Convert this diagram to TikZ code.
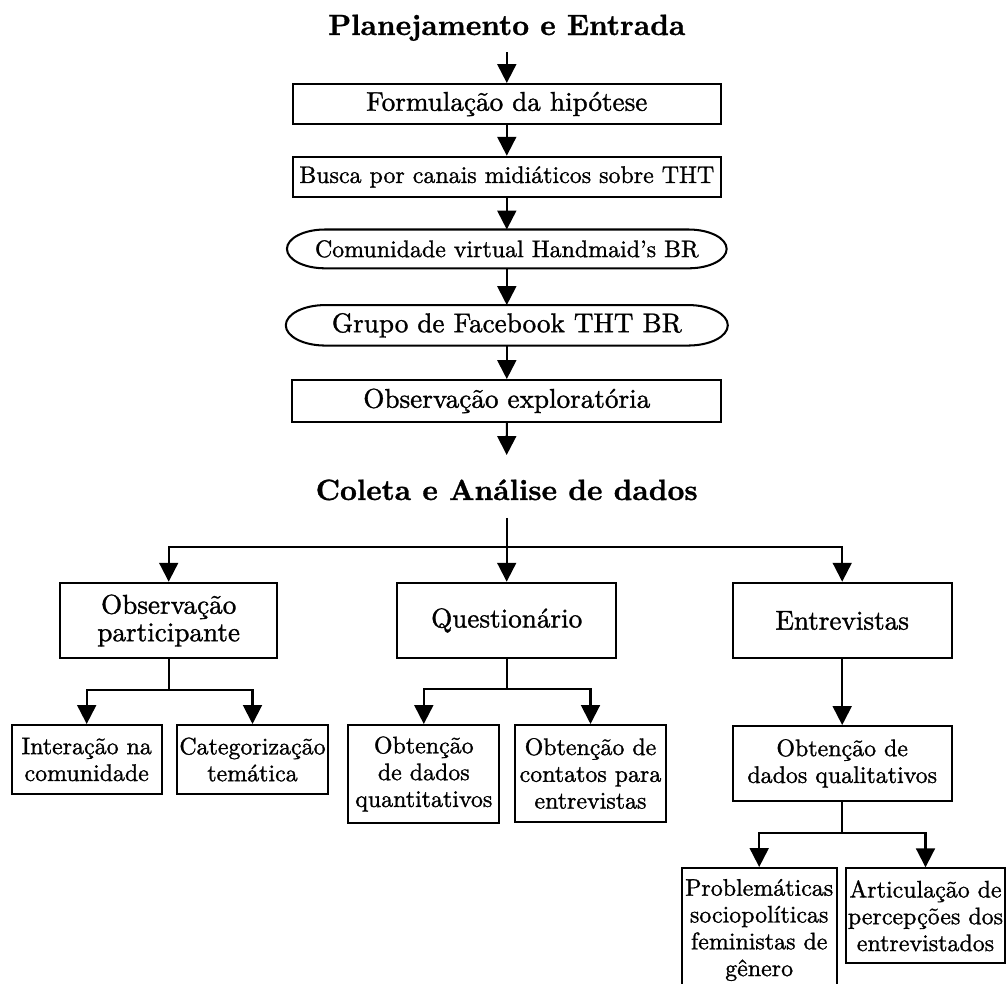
\documentclass[tikz,border=0pt]{standalone}
\usepackage{fontspec}
\setmainfont{lmroman10-regular}[Extension=.otf, BoldFont=lmroman10-bold, ItalicFont=lmroman10-italic, UprightFeatures={FakeBold=1.2}, BoldFeatures={FakeBold=1}]
\usetikzlibrary{arrows.meta}
\newcommand\mfnt{\fontsize{11.35}{11.5}\selectfont}
\newcommand\sfnt{\fontsize{10}{11.2}\selectfont}
\newcommand\tfnt{\fontsize{12.25}{15}\selectfont\bfseries}
\begin{document}
\begin{tikzpicture}[x=0.418pt,y=-0.418pt,
  line width=0.85pt, line join=miter,
  >={Triangle[length=7.9pt,width=7.9pt]},
  box/.style={draw, rectangle, inner sep=0pt, align=center},
  pill/.style={inner sep=0pt, outer sep=0pt, align=center},
  sz/.style 2 args={minimum width=#1*0.418pt, minimum height=#2*0.418pt},
  big/.style={font=\mfnt},
  sm/.style={font=\sfnt},
  ttl/.style={font=\tfnt, inner sep=0pt, anchor=base},
]
\clip (0,0) rectangle (1008,983);

% titles
\node[ttl, text depth=6.7pt] (t1) at (506.8,35) {Planejamento e Entrada};
\node[ttl, text height=18.4pt, text depth=7pt] (t2) at (506.7,500) {Coleta e Análise de dados};

% upper column
\node[box,big,sz={428.3}{40}] (f) at (506.8,104) {Formulação da hipótese};
\node[box,sm,sz={428.3}{40.3}] (b) at (506.8,176.9) {Busca por canais midiáticos sobre THT};
\node[pill,sm,sz={439.7}{38.8}] (c) at (506.8,248.9) {Comunidade virtual Handmaid's BR};
\node[pill,big,sz={442}{40.5}] (g) at (506.8,325.3) {Grupo de Facebook THT BR};
\node[box,big,sz={429}{41.7}] (o) at (506.8,400.9) {Observação exploratória};

\draw ([xshift=15.9pt]c.north west) -- ([xshift=-15.9pt]c.north east)
  arc[start angle=90, end angle=-90, x radius=15.9pt, y radius=8.11pt]
  -- ([xshift=15.9pt]c.south west)
  arc[start angle=270, end angle=90, x radius=15.9pt, y radius=8.11pt] -- cycle;
\draw ([xshift=16.5pt]g.north west) -- ([xshift=-16.5pt]g.north east)
  arc[start angle=90, end angle=-90, x radius=16.5pt, y radius=8.46pt]
  -- ([xshift=16.5pt]g.south west)
  arc[start angle=270, end angle=90, x radius=16.5pt, y radius=8.46pt] -- cycle;

\draw[->] (t1.south) -- (f.north);
\draw[->] (f.south) -- (b.north);
\draw[->] (b.south) -- (c.north);
\draw[->] (c.south) -- (g.north);
\draw[->] (g.south) -- (o.north);
\draw[->] (o.south) -- (t2.north);

% second level
\node[box,big,sz={217.3}{75.6}] (op) at (168.7,620.5) {Observação\\participante};
\node[box,big,sz={218.7}{75.6}] (q) at (506.7,620.5) {Questionário};
\node[box,big,sz={219}{75.6}] (e) at (842.2,620.5) {Entrevistas};

\coordinate (j1) at (506.7,546.7);
\draw (t2.south) -- (j1);
\draw[->] (j1) -| (op.north);
\draw[->] (j1) -- (q.north);
\draw[->] (j1) -| (e.north);

% third level
\node[box,sm,sz={150}{69}] (ia) at (86.7,759.5) {Interação na\\comunidade};
\node[box,sm,sz={151.6}{69}] (ct) at (252.5,759.5) {Categorização\\temática};
\node[box,sm,sz={151}{98}] (qt) at (423.8,774) {Obtenção\\de dados\\quantitativos};
\node[box,sm,sz={151}{97}] (cp) at (590.5,773.5) {Obtenção de\\contatos para\\entrevistas};
\node[box,sm,sz={219}{74.7}] (ql) at (842.2,763.4) {Obtenção de\\dados qualitativos};

\coordinate (j2) at (168.7,690);
\draw (op.south) -- (j2);
\draw[->] (j2) -| (ia.north);
\draw[->] (j2) -| (ct.north);

\coordinate (j3) at (506.7,689.3);
\draw (q.south) -- (j3);
\draw[->] (j3) -| (qt.north);
\draw[->] (j3) -| (cp.north);

\draw[->] (e.south) -- (ql.north);

% fourth level
\node[box,sm,sz={155}{124}] (pr) at (759.2,930) {Problemáticas\\sociopolíticas\\feministas de\\gênero};
\node[box,sm,sz={159}{95}] (ar) at (925.5,915.8) {Articulação de\\percepções dos\\entrevistados};

\coordinate (j4) at (842.2,832.7);
\draw (ql.south) -- (j4);
\draw[->] (j4) -| (pr.north);
\draw[->] (j4) -| (ar.north);
\end{tikzpicture}
\end{document}
